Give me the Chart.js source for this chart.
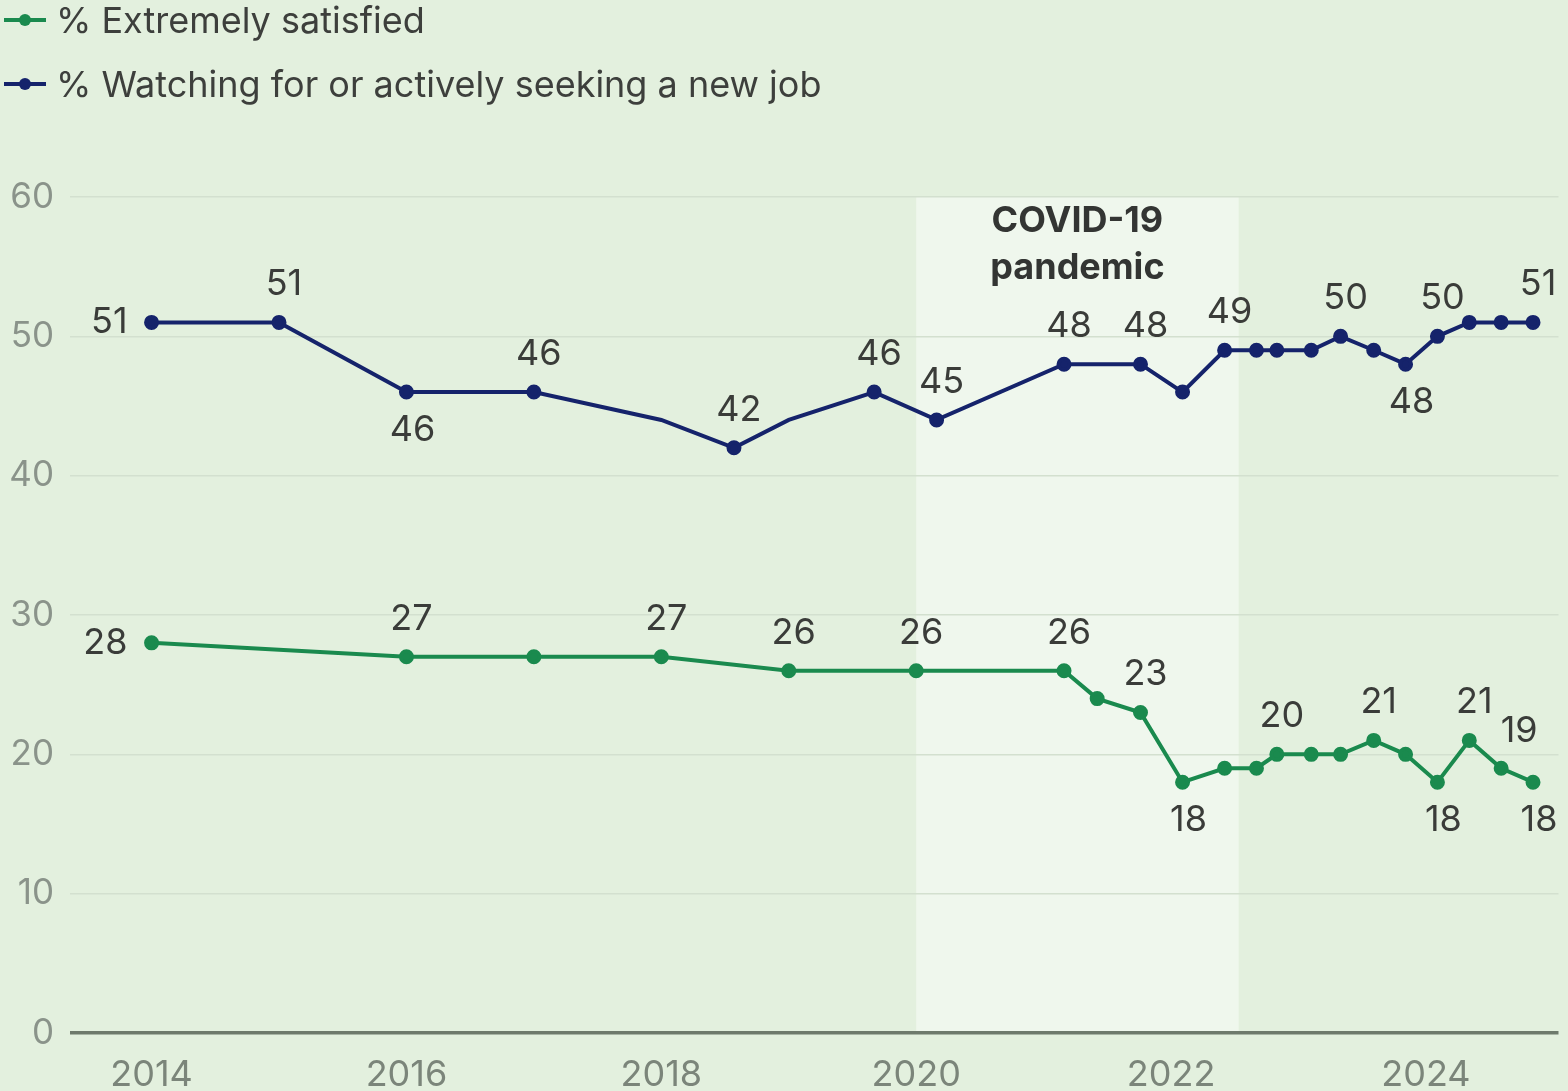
<!DOCTYPE html>
<html lang="en">

<head>
    <title>Job satisfaction and job seeking</title>
    <script src="https://cdn.jsdelivr.net/npm/chart.js"></script>
    <style>
        body {
            margin: 0;
            background: #e3f0de;
            font-family: Inter, Arial, sans-serif;
        }

        #wrap {
            position: relative;
            width: 1568px;
            height: 1091px;
        }

        .legend {
            position: absolute;
            left: 4px;
            font-size: 36px;
            color: #3d3f3c;
            display: flex;
            align-items: center;
            z-index: 2;
        }

        .legend .icon {
            position: relative;
            width: 42px;
            height: 4px;
            margin-right: 10px;
        }

        .legend .icon span {
            position: absolute;
            left: 15px;
            top: -4px;
            width: 12px;
            height: 12px;
            border-radius: 50%;
        }
    </style>
</head>

<body>
    <div id="wrap">
        <div class="legend" style="top:-2px;">
            <div class="icon" style="background:#1a8a4e;"><span style="background:#1a8a4e;"></span></div>
            % Extremely satisfied
        </div>
        <div class="legend" style="top:62px;">
            <div class="icon" style="background:#15236b;"><span style="background:#15236b;"></span></div>
            % Watching for or actively seeking a new job
        </div>
        <canvas id="chart"></canvas>
    </div>
    <script>
        // survey dates as decimal years
        const seekYears = [2014.0, 2015.0, 2016.0, 2017.0, 2018.0, 2018.57, 2019.0, 2019.67, 2020.16, 2021.16, 2021.76,
            2022.09, 2022.42, 2022.67, 2022.83, 2023.10, 2023.33, 2023.59, 2023.84, 2024.09, 2024.34, 2024.59, 2024.84];
        const seekValues = [51, 51, 46, 46, 44, 42, 44, 46, 44, 48, 48, 46, 49, 49, 49, 49, 50, 49, 48, 50, 51, 51, 51];
        const seekLabels = ['51', '51', '46', '46', null, '42', null, '46', '45', '48', '48', null, '49', null, null, null,
            '50', null, '48', '50', null, null, '51'];
        const seekMarkers = [1, 1, 1, 1, 0, 1, 0, 1, 1, 1, 1, 1, 1, 1, 1, 1, 1, 1, 1, 1, 1, 1, 1];

        const satYears = [2014.0, 2016.0, 2017.0, 2018.0, 2019.0, 2020.0, 2021.16, 2021.42, 2021.76, 2022.09, 2022.42,
            2022.67, 2022.83, 2023.10, 2023.33, 2023.59, 2023.84, 2024.09, 2024.34, 2024.59, 2024.84];
        const satValues = [28, 27, 27, 27, 26, 26, 26, 24, 23, 18, 19, 19, 20, 20, 20, 21, 20, 18, 21, 19, 18];
        const satLabels = ['28', '27', null, '27', '26', '26', '26', null, '23', '18', null, null, '20', null, null, '21',
            null, '18', '21', '19', '18'];

        // where each label sits: a = above, b = below, l = left, r = above right
        const seekLabelPos = ['l', 'a', 'b', 'a', null, 'a', null, 'a', 'a', 'a', 'a', null, 'a', null, null, null,
            'a', null, 'b', 'a', null, null, 'a'];
        const satLabelPos = ['l', 'a', null, 'a', 'a', 'a', 'a', null, 'a', 'b', null, null, 'a', null, null, 'a',
            null, 'b', 'a', 'r', 'b'];

        const yearTicks = [2014, 2016, 2018, 2020, 2022, 2024];
        const valueTicks = [0, 10, 20, 30, 40, 50, 60];
        const covidStart = 2020.0;
        const covidEnd = 2022.53;

        const GREEN = '#1a8a4e';
        const NAVY = '#15236b';

        const covidBand = {
            id: 'covidBand',
            beforeDraw(chart) {
                const { ctx, chartArea, scales } = chart;
                const x1 = scales.x.getPixelForValue(covidStart);
                const x2 = scales.x.getPixelForValue(covidEnd);
                ctx.save();
                ctx.fillStyle = '#eff7ed';
                ctx.fillRect(x1, chartArea.top, x2 - x1, chartArea.bottom - chartArea.top);
                ctx.fillStyle = '#333533';
                ctx.font = 'bold 36px Inter, Arial, sans-serif';
                ctx.textAlign = 'center';
                ctx.textBaseline = 'middle';
                const cx = (x1 + x2) / 2;
                ctx.fillText('COVID-19', cx, chartArea.top + 24);
                ctx.fillText('pandemic', cx, chartArea.top + 71);
                ctx.restore();
            }
        };

        const pointLabels = {
            id: 'pointLabels',
            afterDatasetsDraw(chart) {
                const { ctx } = chart;
                const sets = [[seekLabels, seekLabelPos], [satLabels, satLabelPos]];
                ctx.save();
                ctx.fillStyle = '#3a3c39';
                ctx.font = '36px Inter, Arial, sans-serif';
                ctx.textBaseline = 'middle';
                chart.data.datasets.forEach((ds, i) => {
                    const [labels, pos] = sets[i];
                    chart.getDatasetMeta(i).data.forEach((pt, j) => {
                        if (!labels[j]) return;
                        let x = pt.x, y = pt.y;
                        ctx.textAlign = 'center';
                        if (pos[j] === 'a') { x += 5; y -= 38; }
                        else if (pos[j] === 'b') { x += 6; y += 38; }
                        else if (pos[j] === 'r') { x += 18; y -= 37; }
                        else if (pos[j] === 'l') { ctx.textAlign = 'right'; x -= 24; }
                        ctx.fillText(labels[j], x, y);
                    });
                });
                ctx.restore();
            }
        };

        new Chart(document.getElementById('chart'), {
            type: 'line',
            data: {
                datasets: [{
                    label: '% Watching for or actively seeking a new job',
                    data: seekYears.map((x, i) => ({ x: x, y: seekValues[i] })),
                    borderColor: NAVY,
                    backgroundColor: NAVY,
                    borderWidth: 4,
                    pointRadius: seekMarkers.map(m => m ? 5.5 : 0),
                    pointHoverRadius: 5.5,
                    tension: 0
                }, {
                    label: '% Extremely satisfied',
                    data: satYears.map((x, i) => ({ x: x, y: satValues[i] })),
                    borderColor: GREEN,
                    backgroundColor: GREEN,
                    borderWidth: 4,
                    pointRadius: 5.5,
                    pointHoverRadius: 5.5,
                    tension: 0
                }]
            },
            options: {
                responsive: true,
                maintainAspectRatio: false,
                animation: false,
                layout: { padding: { top: 197, right: 8, left: 0, bottom: 0 } },
                plugins: {
                    legend: { display: false },
                    tooltip: { enabled: false }
                },
                scales: {
                    x: {
                        type: 'linear',
                        min: 2013.36,
                        max: 2025.04,
                        afterBuildTicks: s => { s.ticks = yearTicks.map(v => ({ value: v })); },
                        afterFit: s => { s.height = 58; },
                        grid: { display: false },
                        border: { display: false },
                        ticks: {
                            padding: 13,
                            color: '#7b857a',
                            font: { size: 36, family: 'Inter, Arial, sans-serif' },
                            callback: v => String(v),
                            maxRotation: 0
                        }
                    },
                    y: {
                        min: 0,
                        max: 60,
                        afterBuildTicks: s => { s.ticks = valueTicks.map(v => ({ value: v })); },
                        afterFit: s => { s.width = 70; },
                        border: { display: false },
                        grid: {
                            color: c => c.tick && c.tick.value === 0 ? '#6e7a6c' : '#d3e0cf',
                            lineWidth: c => c.tick && c.tick.value === 0 ? 3.5 : 1.5,
                            drawTicks: false
                        },
                        ticks: {
                            padding: 16,
                            color: '#8a938a',
                            font: { size: 35, family: 'Inter, Arial, sans-serif' }
                        }
                    }
                }
            },
            plugins: [covidBand, pointLabels]
        });
    </script>
</body>

</html>
